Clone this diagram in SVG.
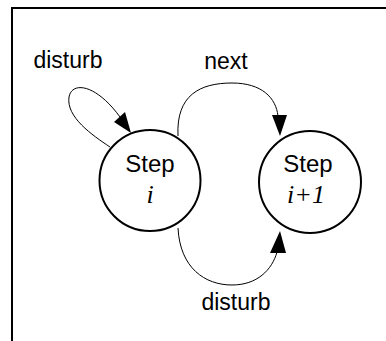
<svg xmlns="http://www.w3.org/2000/svg" width="386" height="341" viewBox="0 0 386 341">
  <style>
    .frame { stroke: #000; stroke-width: 2; fill: none; }
    .state { fill: #fff; stroke: #000; stroke-width: 2; }
    .edge { fill: none; stroke: #000; stroke-width: 1; }
    .head { fill: #000; stroke: none; }
    .lbl { font-family: "Liberation Sans", Arial, sans-serif; font-size: 23px; fill: #000; text-anchor: middle; }
    .name { font-family: "Liberation Sans", Arial, sans-serif; font-size: 24px; fill: #000; text-anchor: middle; }
    .idx { font-family: "Liberation Serif", "Times New Roman", serif; font-style: italic; font-size: 26px; fill: #000; text-anchor: middle; }
  </style>
  <rect width="386" height="341" fill="#fff"/>
  <!-- frame: top and left edges -->
  <path class="frame" d="M12,341 V8 H386"/>

  <g id="connectors">
    <!-- self loop on step i -->
    <path class="edge" d="M110,147 C92,135 66,117 69,97 C72,81 96,84 120,117"/>
    <polygon class="head" points="131,133 114,122 125,112"/>
    <text class="lbl" x="68" y="68">disturb</text>
    <!-- next: step i to step i+1 over the top -->
    <path class="edge" d="M178,136 C176,95 200,83 232,83 C262,83 276,98 278,116"/>
    <polygon class="head" points="280,136 272,115 287,115"/>
    <text class="lbl" x="226" y="69">next</text>
    <!-- disturb: step i to step i+1 under the bottom -->
    <path class="edge" d="M178,228 C180,268 205,285 232,285 C257,285 272,270 277,252"/>
    <polygon class="head" points="280,231 270,253 286,253"/>
    <text class="lbl" x="236" y="310">disturb</text>
  </g>

  <g id="step-i">
    <circle class="state" cx="150" cy="180.5" r="50.5"/>
    <text class="name" x="150" y="172">Step</text>
    <text class="idx" x="150" y="203">i</text>
  </g>

  <g id="step-i1">
    <circle class="state" cx="310" cy="182" r="51"/>
    <text class="name" x="308" y="172">Step</text>
    <text class="idx" x="306" y="203">i+1</text>
  </g>
</svg>
